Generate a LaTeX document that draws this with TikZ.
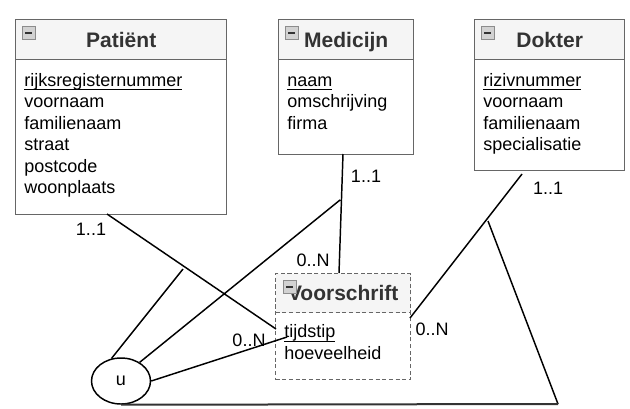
\documentclass[tikz,border=0pt]{standalone}
\usepackage{fontspec}
\setmainfont{Liberation Sans}
\usetikzlibrary{positioning,calc,shapes.geometric}
\definecolor{erdgray}{HTML}{666666}
\definecolor{erdfill}{HTML}{F5F5F5}
\definecolor{erdtitle}{HTML}{333333}
\definecolor{erdicon}{HTML}{D2D2D2}
\newcommand{\pkey}[1]{\setbox0\hbox{#1}\rlap{\rule[-3pt]{\wd0}{0.75pt}}\box0}
\tikzset{
    entity/.style={draw=erdgray,line width=1.1pt,fill=white,inner sep=0pt,anchor=north west},
    weak/.style={entity,dash pattern=on 3pt off 2pt},
    ehead/.style={entity,fill=erdfill,minimum height=30pt,text=erdtitle,
        font=\fontsize{15.75}{18}\selectfont\bfseries,text height=11.3pt,text depth=0pt},
    weakhead/.style={ehead,dash pattern=on 3pt off 2pt},
    attrs/.style={anchor=north west,inner sep=0pt,align=left,font=\fontsize{13.5}{16.125}\selectfont},
    collapse/.style={draw=gray!90,fill=erdicon,line width=0.6pt,minimum size=9.5pt,inner sep=0pt,anchor=north west,
        path picture={\draw[erdtitle,line width=1.4pt] ([xshift=2.2pt]path picture bounding box.west) -- ([xshift=-2.2pt]path picture bounding box.east);}},
    card/.style={inner sep=0pt,font=\fontsize{13.5}{16}\selectfont},
    link/.style={draw,line width=1.1pt},
    union/.style={ellipse,draw,line width=1.1pt,fill=white,minimum width=44.25pt,minimum height=34.5pt,inner sep=0pt,
        font=\fontsize{13.5}{16}\selectfont},
}
\begin{document}
\begin{tikzpicture}[x=0.75pt,y=-0.75pt]
    \useasboundingbox (0,0) rectangle (630,408);

    % entiteiten
    \node[entity,minimum width=158.25pt,minimum height=146.25pt] (pat) at (15,19) {};
    \node[ehead,minimum width=158.25pt] (patHead) at (pat.north west) {Patiënt};
    \node[collapse] (patIcon) at ([shift={(7,7)}]pat.north west) {};
    \node[attrs] (patAttr) at ([shift={(9,10.5)}]patHead.south west)
        {\strut\pkey{rijksregisternummer}\\voornaam\\familienaam\\straat\\postcode\\woonplaats};

    \node[entity,minimum width=101.25pt,minimum height=101.25pt] (med) at (278,19) {};
    \node[ehead,minimum width=101.25pt] (medHead) at (med.north west) {Medicijn};
    \node[collapse] (medIcon) at ([shift={(7,7)}]med.north west) {};
    \node[attrs] (medAttr) at ([shift={(9,10.5)}]medHead.south west)
        {\strut\pkey{naam}\\omschrijving\\firma};

    \node[entity,minimum width=112.5pt,minimum height=113.25pt] (dok) at (474,19) {};
    \node[ehead,minimum width=112.5pt] (dokHead) at (dok.north west) {Dokter};
    \node[collapse] (dokIcon) at ([shift={(7,7)}]dok.north west) {};
    \node[attrs] (dokAttr) at ([shift={(9,10.5)}]dokHead.south west)
        {\strut\pkey{rizivnummer}\\voornaam\\familienaam\\specialisatie};

    \node[weak,minimum width=101.25pt,minimum height=79.5pt] (vs) at (275,273) {};
    \node[weakhead,minimum width=101.25pt,minimum height=29.25pt] (vsHead) at (vs.north west) {Voorschrift};
    \node[collapse] (vsIcon) at ([shift={(8,7)}]vs.north west) {};
    \node[attrs] (vsAttr) at ([shift={(9,9)}]vsHead.south west)
        {\strut\pkey{tijdstip}\\hoeveelheid};

    \node[union] (u) at (121,381) {u};

    % aansluitpunten
    \coordinate (patPort) at (107,214);
    \coordinate (vsLeft) at (276,329);
    \coordinate (patJoin) at (183,269);
    \coordinate (medPort) at (343,154);
    \coordinate (vsTop) at (339,273);
    \coordinate (medJoin) at (340,200);
    \coordinate (dokPort) at (522,174);
    \coordinate (vsRight) at (410,318);
    \coordinate (dokJoin) at (488,221);
    \coordinate (dokFoot) at (558,404);
    \coordinate (vsTijd) at (287,337);

    \path[link]
    (patPort) -- (vsLeft)
    (u.113) -- (patJoin)
    (medPort) -- (vsTop)
    (u.45) -- (medJoin)
    (dokPort) -- (vsRight)
    (dokJoin) -- (dokFoot)
    (u.east) -- (vsTijd);
    \draw[line width=1.5pt,erdtitle] (u.south) -- (dokFoot);

    % kardinaliteiten
    \node[card] (cPat) at (91,229) {1..1};
    \node[card] (cMed) at (366,176) {1..1};
    \node[card] (cVsTop) at (313,260) {0..N};
    \node[card] (cDok) at (548,188) {1..1};
    \node[card] (cVsRight) at (432,329) {0..N};
    \node[card] (cU) at (249,340) {0..N};
\end{tikzpicture}
\end{document}
